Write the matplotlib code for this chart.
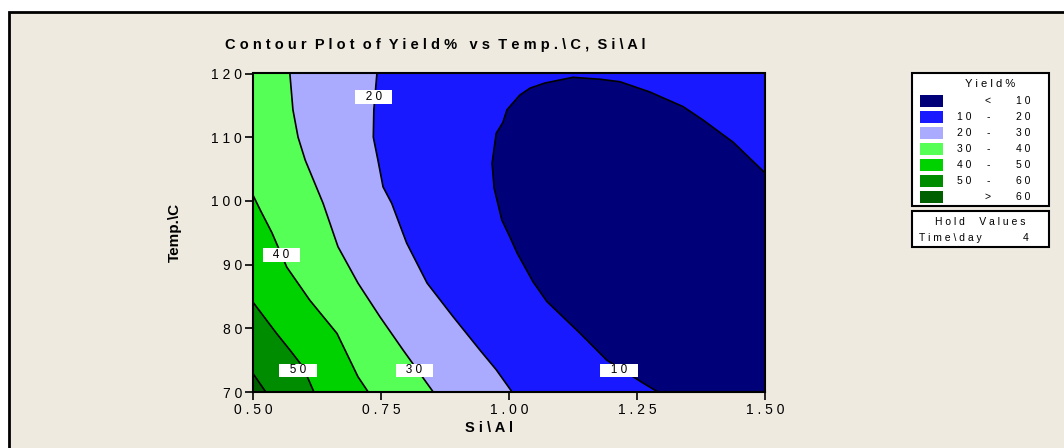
import matplotlib
matplotlib.use("Agg")
import matplotlib.pyplot as plt
from matplotlib.patches import Rectangle

plt.rcParams['font.family'] = ['Liberation Sans', 'DejaVu Sans']

# contour levels of Yield% and band colours (lowest band first)
levels = [10, 20, 30, 40, 50, 60]
band_colors = ['#000078', '#1919ff', '#aaaaff', '#55ff55', '#00d200', '#008c00', '#006000']

# contour lines traced over Si\Al (x) and Temp.\C (y)
c10_x = [1.291, 1.262, 1.191, 1.139, 1.074, 1.047, 1.016, 1.002, 0.986, 0.971, 0.967,
         0.975, 0.988, 0.996, 1.021, 1.041, 1.070, 1.125, 1.178, 1.217, 1.275, 1.340,
         1.379, 1.438, 1.500]
c10_y = [70.0, 71.4, 75.0, 79.2, 84.2, 87.3, 91.8, 94.3, 97.0, 102.0, 105.9,
         110.6, 112.3, 114.3, 116.6, 117.7, 118.5, 119.4, 119.1, 118.7, 117.1, 114.8,
         112.7, 109.2, 104.4]
c20_x = [0.742, 0.736, 0.735, 0.744, 0.754, 0.771, 0.800, 0.840, 0.891, 0.943, 0.975, 1.006]
c20_y = [120.0, 114.3, 110.0, 106.4, 102.2, 99.6, 93.4, 87.1, 81.8, 76.6, 73.5, 70.0]
c30_x = [0.572, 0.578, 0.588, 0.602, 0.637, 0.666, 0.705, 0.748, 0.793, 0.852]
c30_y = [120.0, 114.3, 110.0, 106.4, 99.6, 92.8, 87.1, 81.8, 76.6, 70.0]
c40_x = [0.500, 0.514, 0.537, 0.566, 0.611, 0.664, 0.705, 0.725]
c40_y = [100.9, 98.6, 95.0, 89.6, 84.4, 79.2, 72.4, 70.0]
c50_x = [0.500, 0.546, 0.572, 0.598, 0.619]
c50_y = [84.1, 79.2, 76.6, 73.9, 70.0]
c60_x = [0.500, 0.525]
c60_y = [72.9, 70.0]

# where each contour value is written
label_x = [1.215, 0.736, 0.815, 0.555, 0.588]
label_y = [73.4, 116.3, 73.4, 91.5, 73.4]
label_val = [10, 20, 30, 40, 50]

xticks = [0.50, 0.75, 1.00, 1.25, 1.50]
yticks = [70, 80, 90, 100, 110, 120]
hold_name = 'Time\\day'
hold_value = 4

xmin, xmax, ymin, ymax = 0.5, 1.5, 70, 120
bg = '#eeeae0'


def spaced(s):
    return ' '.join(s)


fig = plt.figure(figsize=(10.64, 4.48), dpi=100, facecolor='white')
fig.add_artist(Rectangle((9 / 1064, -0.1), 1.2, (448 - 12) / 448 + 0.1,
                         transform=fig.transFigure, facecolor=bg,
                         edgecolor='black', linewidth=2, zorder=-10))

ax = fig.add_axes([253 / 1064, 56 / 448, 512 / 1064, 318.5 / 448])
ax.set_xlim(xmin, xmax)
ax.set_ylim(ymin, ymax)

# 10-20 band fills the whole area, higher bands are layered from the left
ax.fill([xmin, xmax, xmax, xmin], [ymin, ymin, ymax, ymax], color=band_colors[1], lw=0)
ax.fill(c20_x + [xmin, xmin], c20_y + [ymin, ymax], color=band_colors[2], lw=0)
ax.fill(c30_x + [xmin, xmin], c30_y + [ymin, ymax], color=band_colors[3], lw=0)
ax.fill(c40_x + [xmin], c40_y + [ymin], color=band_colors[4], lw=0)
ax.fill(c50_x + [xmin], c50_y + [ymin], color=band_colors[5], lw=0)
ax.fill(c60_x + [xmin], c60_y + [ymin], color=band_colors[6], lw=0)
ax.fill(c10_x + [xmax], c10_y + [ymin], color=band_colors[0], lw=0)

for cx, cy in [(c10_x, c10_y), (c20_x, c20_y), (c30_x, c30_y),
               (c40_x, c40_y), (c50_x, c50_y), (c60_x, c60_y)]:
    ax.plot(cx, cy, color='black', lw=1.2)

for lx, ly, v in zip(label_x, label_y, label_val):
    ax.text(lx, ly, '   ' + spaced(str(v)) + '   ', ha='center', va='center', fontsize=8.5,
            bbox=dict(boxstyle='square,pad=0.05', facecolor='white', edgecolor='none'))

ax.set_facecolor(bg)
for sp in ax.spines.values():
    sp.set_linewidth(1.5)
ax.set_xticks(xticks, labels=[spaced(f'{v:.2f}') for v in xticks])
ax.set_yticks(yticks, labels=[spaced(str(v)) for v in yticks])
ax.tick_params(direction='out', length=6, width=1.2, labelsize=10, pad=2)
ax.set_xlabel(spaced('Si\\Al'), fontsize=10.5, fontweight='bold')
ax.xaxis.set_label_coords((489 - 253) / 512, -(421 - 392) / 318.5)
ax.set_ylabel('Temp.\\C', fontsize=11, fontweight='bold')
ax.yaxis.set_label_coords(-(253 - 175) / 512, 0.5)
ax.yaxis.label.set_va('center')

fig.text(435 / 1064, 1 - 45 / 448, 'C o n t o u r  P l o t  o f  Y i e l d %   v s  T e m p . \\ C ,  S i \\ A l',
         ha='center', va='center', fontsize=10.5, fontweight='bold')

# legend of bands
def fx(px):
    return px / 1064


def fy(py):
    return 1 - py / 448


fig.add_artist(Rectangle((fx(912), fy(206)), fx(1049) - fx(912), fy(73) - fy(206),
                         transform=fig.transFigure, facecolor='white',
                         edgecolor='black', linewidth=1.5))
fig.text(fx(990), fy(84), spaced('Yield%'), ha='center', va='center', fontsize=8)
edges = [None] + levels + [None]
for i, col in enumerate(band_colors):
    yc = 101 + 16 * i
    fig.add_artist(Rectangle((fx(920), fy(yc + 6)), fx(943) - fx(920), fy(yc - 6) - fy(yc + 6),
                             transform=fig.transFigure, facecolor=col, edgecolor='none'))
    lo, hi = edges[i], edges[i + 1]
    if lo is None:
        fig.text(fx(988), fy(yc), '<', ha='center', va='center', fontsize=7.5)
        fig.text(fx(1023), fy(yc), spaced(str(hi)), ha='center', va='center', fontsize=7.5)
    elif hi is None:
        fig.text(fx(988), fy(yc), '>', ha='center', va='center', fontsize=7.5)
        fig.text(fx(1023), fy(yc), spaced(str(lo)), ha='center', va='center', fontsize=7.5)
    else:
        fig.text(fx(964), fy(yc), spaced(str(lo)), ha='center', va='center', fontsize=7.5)
        fig.text(fx(988), fy(yc), '-', ha='center', va='center', fontsize=7.5)
        fig.text(fx(1023), fy(yc), spaced(str(hi)), ha='center', va='center', fontsize=7.5)

fig.add_artist(Rectangle((fx(912), fy(247)), fx(1049) - fx(912), fy(211) - fy(247),
                         transform=fig.transFigure, facecolor='white',
                         edgecolor='black', linewidth=1.5))
fig.text(fx(980), fy(222), spaced('Hold  Values'), ha='center', va='center', fontsize=7.5)
fig.text(fx(919), fy(238), spaced(hold_name), ha='left', va='center', fontsize=7.5)
fig.text(fx(1026), fy(238), str(hold_value), ha='center', va='center', fontsize=7.5)

fig.savefig('out.png', dpi=100, facecolor=fig.get_facecolor())
